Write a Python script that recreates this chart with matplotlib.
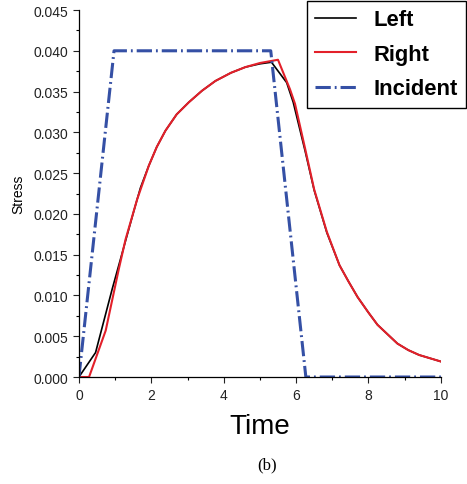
import matplotlib
matplotlib.use("Agg")
import matplotlib.pyplot as plt
from matplotlib.ticker import MultipleLocator, FormatStrFormatter

# Donnees
t_left = [0, 0.46, 0.92, 1.52, 1.7, 1.93, 2.15, 2.39, 2.7, 3.04, 3.4, 3.77, 4.2, 4.6, 5.0, 5.32,
          5.74, 5.92, 6.25, 6.5, 6.85, 7.2, 7.45, 7.7, 8.0, 8.25, 8.8, 9.1, 9.4, 9.7, 10.0]
s_left = [0, 0.0030, 0.0108, 0.0204, 0.0232, 0.0259, 0.0282, 0.0302, 0.0322, 0.0337, 0.0351, 0.0363,
          0.0373, 0.0380, 0.0384, 0.0386,
          0.0361, 0.0337, 0.0277, 0.0229, 0.0177, 0.0137, 0.0117, 0.0098, 0.0079, 0.0064, 0.0041,
          0.0033, 0.0027, 0.0023, 0.0019]

t_right = [0, 0.28, 0.74, 1.1, 1.29, 1.61, 1.93, 2.15, 2.39, 2.7, 3.04, 3.4, 3.77, 4.2, 4.6, 5.0, 5.5,
           5.83, 5.97, 6.25, 6.5, 6.85, 7.2, 7.45, 7.7, 8.0, 8.25, 8.8, 9.1, 9.4, 9.7, 10.0]
s_right = [0, 0, 0.0057, 0.0132, 0.0169, 0.0218, 0.0259, 0.0282, 0.0302, 0.0322, 0.0337, 0.0351, 0.0363,
           0.0373, 0.0380, 0.0385, 0.0389,
           0.0353, 0.0335, 0.0280, 0.0230, 0.0178, 0.0137, 0.0117, 0.0098, 0.0079, 0.0064, 0.0041,
           0.0033, 0.0027, 0.0023, 0.0019]

t_inc = [0, 0.97, 5.3, 6.27, 10.0]
s_inc = [0, 0.040, 0.040, 0, 0]

plt.rcParams['font.family'] = ['Liberation Sans', 'DejaVu Sans']

fig = plt.figure(figsize=(4.67, 4.85), dpi=100)
ax = fig.add_axes([0.169, 0.2206, 0.775, 0.7567])

ax.plot(t_left, s_left, color='black', lw=1.2, label='Left')
ax.plot(t_right, s_right, color='#e3202a', lw=1.5, label='Right')
ax.plot(t_inc, s_inc, color='#3550a5', lw=2.2, dashes=(5, 1.3, 0.6, 1.3), label='Incident')

ax.set_xlim(0, 10)
ax.set_ylim(0, 0.045)
ax.xaxis.set_major_locator(MultipleLocator(2))
ax.xaxis.set_minor_locator(MultipleLocator(1))
ax.yaxis.set_major_locator(MultipleLocator(0.005))
ax.yaxis.set_minor_locator(MultipleLocator(0.0025))
ax.yaxis.set_major_formatter(FormatStrFormatter('%.3f'))

for side in ['top', 'right']:
    ax.spines[side].set_visible(False)
for side in ['left', 'bottom']:
    ax.spines[side].set_linewidth(0.9)
ax.tick_params(which='major', direction='out', length=4, width=0.8, labelsize=10, colors='#222222')
ax.tick_params(which='minor', direction='out', length=2.5, width=0.8)
ax.tick_params(axis='x', pad=4)

ax.set_ylabel('Stress', fontsize=10, labelpad=6)
ax.set_xlabel('Time', fontsize=20, labelpad=8)

fig.legend(loc='upper right', bbox_to_anchor=(0.998, 0.996),
           prop={'weight': 'bold', 'size': 15.8}, frameon=True, fancybox=False,
           edgecolor='black', framealpha=1, handlelength=1.85, handletextpad=0.8,
           borderpad=0.38, labelspacing=0.62, borderaxespad=0)

fig.text(0.572, 0.041, '(b)', fontsize=12, family='Liberation Serif', ha='center', va='center')

fig.savefig('out.png', dpi=100)
